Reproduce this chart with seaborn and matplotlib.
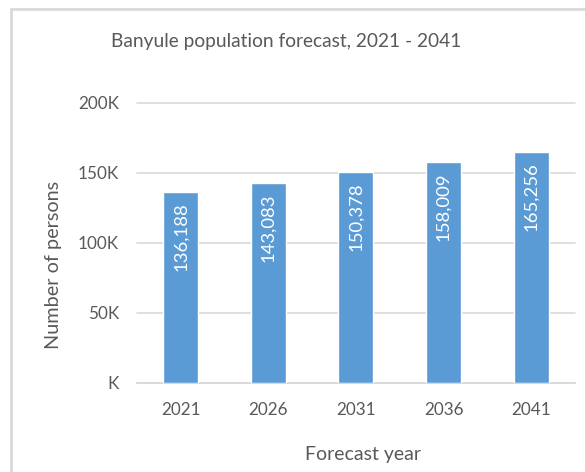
import matplotlib
matplotlib.use("Agg")
import matplotlib.pyplot as plt
import matplotlib.ticker as mticker
from matplotlib.patches import Rectangle
import pandas as pd
import seaborn as sns

years = ["2021", "2026", "2031", "2036", "2041"]
population = [136188, 143083, 150378, 158009, 165256]
y_ticks = [0, 50000, 100000, 150000, 200000]

df = pd.DataFrame({"year": years, "population": population})

sns.set_theme(style="white")
plt.rcParams["font.family"] = ["Lato", "DejaVu Sans"]

text_grey = "#595959"
grid_grey = "#d9d9d9"
bar_blue = "#5b9bd5"

fig = plt.figure(figsize=(5.85, 4.72), dpi=100)
ax = fig.add_axes([0.234, 0.189, 0.749, 0.593])

sns.barplot(data=df, x="year", y="population", color=bar_blue, width=0.4,
            saturation=1, ax=ax, zorder=3)

ax.set_ylim(0, 200000)
ax.set_yticks(y_ticks)
ax.yaxis.set_major_formatter(
    mticker.FuncFormatter(lambda v, p: f"{int(v / 1000)}K" if v else "K"))
ax.grid(axis="y", color=grid_grey, linewidth=1.2, zorder=0)
for g in ax.get_ygridlines():
    g.set_clip_on(False)
ax.set_axisbelow(True)

for s in ["top", "right", "left"]:
    ax.spines[s].set_visible(False)
ax.spines["bottom"].set_color(grid_grey)
ax.spines["bottom"].set_linewidth(1.2)
ax.tick_params(length=0, colors=text_grey, labelsize=12.3)
ax.tick_params(axis="x", pad=14)
ax.tick_params(axis="y", pad=13)

# value labels inside bars
for i, v in enumerate(population):
    ax.text(i, v - 7500, f"{v:,}", rotation=90, ha="center", va="top",
            color="white", fontsize=13.3, zorder=4)

# title sits in the chart area, above the plot
fig.text(286 / 585, 1 - 41 / 472, "Banyule population forecast, 2021 - 2041",
         color=text_grey, fontsize=13.8, ha="center", va="center")
ax.set_xlabel("Forecast year", color=text_grey, fontsize=14, labelpad=20)
ax.set_ylabel("Number of persons", color=text_grey, fontsize=14.3, labelpad=11)
ax.xaxis.label.set_x(0.516)
ax.yaxis.label.set_y(0.42)

# chart area border
fig.patches.append(Rectangle((11 / 585, -0.1), 1.2, 1.1 - 9 / 472,
                             transform=fig.transFigure, fill=False,
                             edgecolor=grid_grey, linewidth=2))

fig.savefig("out.png", dpi=100)
